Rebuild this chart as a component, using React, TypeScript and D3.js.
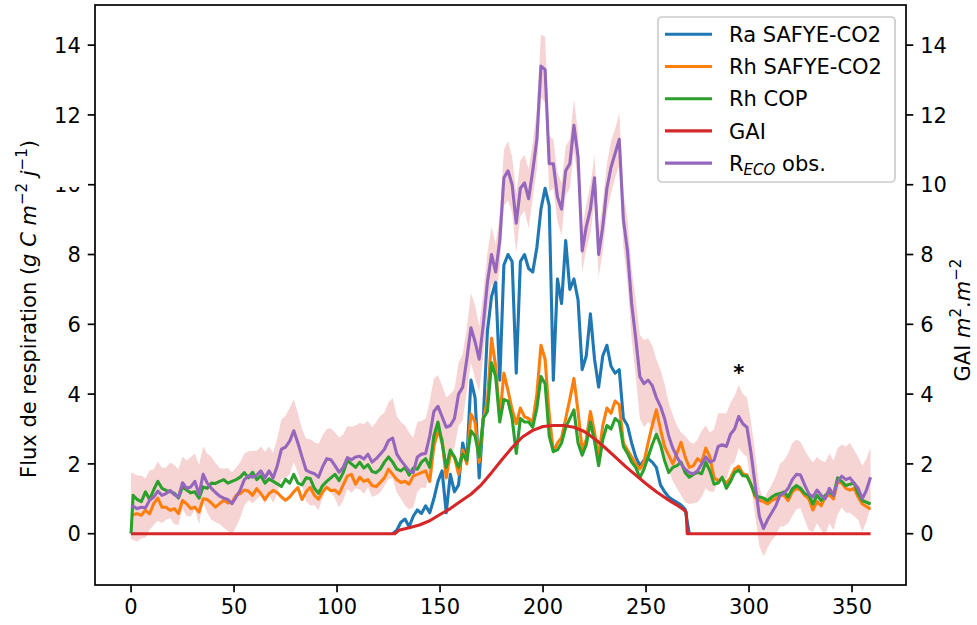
import React from 'react';
import * as d3 from 'd3';

// ---------- data ----------
// sampling grid: day 0, then every odd day 1..359
const days = [0, ...d3.range(1, 360, 2)];
// Ra only non-zero between day 127 and 271 (elsewhere 0, hidden under GAI)
const raDays = d3.range(127, 272, 2);
const raValues = [
  0,
  0.1, 0.33, 0.42, 0.2, 0.5, 0.68, 0.58, 0.8, 0.6, 1.0,
  1.5, 1.8, 0.6, 1.7, 1.2, 1.4, 2.6, 2.1, 4.4, 3.9,
  1.6, 3.3, 5.8, 6.8, 7.2, 4.4, 7.7, 8.0, 7.8, 4.6,
  7.8, 8.0, 7.6, 7.5, 8.2, 9.3, 9.9, 9.4, 4.4, 7.3,
  6.6, 8.4, 7.0, 7.3, 6.7, 4.7, 5.1, 6.3, 5.0, 4.2,
  5.1, 5.4, 4.8, 4.6, 4.7, 3.3, 3.1, 2.6, 2.2, 1.95,
  2.1, 2.15, 2.05, 1.9, 1.4, 1.2, 1.05, 0.97, 0.9, 0.82,
  0.7,
  0,
];
const rhSafyeValues = [
  0.55,
  0.55, 0.57, 0.53, 0.67, 0.57, 0.86, 1.02, 0.76, 0.76, 0.67,
  0.72, 0.58, 0.95, 0.86, 0.72, 0.76, 0.62, 1.0, 0.98, 0.88,
  0.76, 0.86, 0.96, 0.88, 0.9, 1.1, 1.15, 1.25, 1.22, 1.1,
  1.29, 1.15, 0.98, 1.15, 1.24, 1.18, 1.05, 0.96, 1.05, 1.2,
  1.32, 0.98, 1.2, 1.33, 1.1, 0.99, 1.2, 1.33, 1.23, 1.25,
  1.14, 1.4, 1.65, 1.7, 1.42, 1.62, 1.5, 1.55, 1.38, 1.35,
  1.47, 1.6, 1.85, 1.7, 1.55, 1.47, 1.5, 1.42, 1.65, 1.7,
  1.75, 1.8, 1.5, 2.5, 2.95, 2.7, 1.6, 2.3, 2.2, 1.7,
  2.4, 2.0, 3.43, 3.2, 2.05, 3.3, 3.8, 5.6, 4.8, 3.3,
  4.6, 4.1, 3.55, 3.15, 3.6, 3.35, 3.3, 3.2, 4.0, 5.4,
  5.0, 3.4, 2.35, 2.6, 2.75, 3.3, 3.85, 4.45, 3.5, 2.4,
  2.7, 3.5, 2.9, 2.2, 3.1, 3.6, 3.45, 3.8, 3.7, 2.6,
  2.4, 2.2, 2.0, 1.85, 2.05, 2.6, 3.1, 3.55, 3.0, 2.5,
  2.25, 2.0, 2.3, 2.62, 2.2, 1.9, 1.95, 2.15, 2.05, 2.45,
  2.2, 1.6, 1.52, 1.58, 1.45, 1.6, 1.85, 1.93, 1.72, 1.68,
  1.4, 1.05, 0.95, 0.92, 0.85, 0.95, 1.0, 1.1, 1.1, 0.95,
  1.2, 1.3, 1.25, 1.1, 1.0, 0.68, 0.92, 0.8, 1.05, 1.12,
  1.0, 1.5, 1.45, 1.3, 1.25, 1.3, 1.05, 0.85, 0.78, 0.7,
];
const rhCopValues = [
  0,
  1.1, 0.98, 0.92, 1.2, 0.98, 1.26, 1.5, 1.3, 1.24, 1.2,
  1.16, 1.02, 1.34, 1.25, 1.17, 1.2, 1.02, 1.34, 1.3, 1.45,
  1.44, 1.5, 1.55, 1.45, 1.5, 1.55, 1.62, 1.75, 1.6, 1.76,
  1.55, 1.66, 1.45, 1.57, 1.5, 1.43, 1.35, 1.56, 1.45, 1.7,
  1.45, 1.4, 1.6, 1.58, 1.3, 1.16, 1.38, 1.5, 1.6, 1.7,
  1.52, 1.75, 2.1, 2.0, 1.9, 2.05, 1.88, 1.98, 1.78, 1.75,
  1.85, 2.05, 2.2, 2.05, 1.85, 1.8, 1.9, 1.68, 1.88, 1.85,
  2.05, 2.15, 1.9, 2.8, 3.2, 2.6, 1.9, 2.4, 2.2, 1.9,
  2.28, 2.1, 2.95, 2.8, 2.2, 3.3, 3.5, 4.9, 4.5, 3.2,
  3.85, 3.8, 3.3, 2.3, 3.3, 3.2, 3.2, 3.05, 3.6, 4.5,
  4.3, 2.8, 2.35, 2.4, 2.6, 3.05, 3.3, 3.55, 2.6, 2.25,
  2.55, 3.2, 2.65, 1.95, 2.7, 3.1, 3.0, 3.3, 3.2, 2.5,
  2.3, 2.05, 1.9, 1.6, 1.85, 2.2, 2.55, 2.85, 2.55, 2.1,
  1.75, 1.9, 1.95, 2.05, 1.75, 1.62, 1.7, 1.76, 1.72, 2.05,
  1.8, 1.42, 1.45, 1.62, 1.3, 1.5, 1.75, 1.82, 1.66, 1.65,
  1.4, 1.1, 1.05, 1.02, 0.95, 1.05, 1.12, 1.15, 1.2, 1.05,
  1.28, 1.38, 1.3, 1.15, 1.1, 0.85, 1.1, 0.95, 1.1, 1.2,
  1.1, 1.6, 1.5, 1.38, 1.42, 1.45, 1.15, 0.95, 0.9, 0.85,
];
const recoValues = [
  0.8,
  0.78, 0.72, 0.76, 0.74, 0.96, 1.05, 1.22, 1.1, 1.15, 1.24,
  1.12, 1.05, 1.46, 1.3, 1.34, 1.5, 1.12, 1.7, 1.45, 1.3,
  1.18, 1.08, 1.02, 0.98, 0.86, 1.05, 1.25, 1.55, 1.66, 1.62,
  1.68, 1.8, 1.6, 1.8, 1.6, 1.95, 2.42, 2.48, 2.65, 2.95,
  2.6, 2.2, 1.82, 1.76, 1.72, 1.62, 1.92, 2.15, 2.12, 1.95,
  1.76, 1.9, 2.18, 2.12, 2.2, 2.22, 2.14, 2.28, 2.05, 2.15,
  2.28, 2.42, 2.67, 2.74, 2.28, 2.1, 1.95, 1.8, 1.75, 2.2,
  2.28, 2.3, 2.8, 3.5, 3.65, 3.35, 3.05, 3.1, 3.3, 4.0,
  4.2, 5.0, 5.9, 5.5, 5.0, 6.0, 7.2, 8.0, 7.5, 8.4,
  10.2, 10.4, 10.0, 8.9, 9.9, 10.05, 9.6, 10.4, 11.3, 13.4,
  13.3, 10.6, 10.6, 9.65, 9.3, 10.4, 10.6, 11.7, 10.8, 8.1,
  8.8, 9.3, 10.2, 8.0, 8.8, 9.9, 10.5, 10.9, 11.3, 9.0,
  8.1, 6.6, 5.6, 4.5, 4.3, 4.4, 4.25, 3.9, 3.65, 3.3,
  2.8, 2.45, 2.2, 2.0, 1.85, 1.75, 1.72, 1.8, 2.0, 2.2,
  2.05, 2.1, 2.5, 2.55, 2.5, 2.85, 3.0, 3.36, 3.15, 3.05,
  2.3, 1.4, 0.5, 0.15, 0.4, 0.6, 0.8, 1.1, 1.16, 1.3,
  1.55, 1.7, 1.68, 1.4, 1.15, 1.05, 1.25, 1.1, 1.0, 1.3,
  1.1, 1.5, 1.65, 1.55, 1.6, 1.45, 1.3, 1.0, 1.25, 1.62,
];
const recoSd = [
  0.95,
  0.95, 0.95, 0.9, 0.85, 0.85,
  0.8, 0.85, 0.8, 0.75, 0.8, 0.85, 0.8, 0.75, 0.8, 0.85,
  0.8, 0.85, 0.8, 0.85, 0.9, 0.85, 0.8, 0.85, 0.9, 0.9,
  0.85, 0.8, 0.75, 0.7, 0.75, 0.7, 0.7, 0.75, 0.7, 0.72,
  0.8, 0.85, 0.9, 0.95, 0.9, 0.85, 0.8, 0.9, 0.95, 0.9,
  0.95, 0.9, 0.85, 0.9, 0.95, 1.0, 0.95, 0.9, 0.95, 0.9,
  0.95, 1.0, 0.95, 1.0, 1.05, 1.1, 1.05, 1.1, 1.15, 1.1,
  1.1, 1.15, 1.1, 1.0, 1.0, 0.95, 1.0, 1.0, 0.95, 0.9,
  0.9, 0.85, 0.9, 0.85, 0.9, 0.95, 0.9, 1.0, 1.05, 0.95,
  0.9, 0.85, 0.8, 0.8, 0.75, 0.8, 0.85, 0.8, 0.85, 0.8,
  0.8, 0.85, 0.8, 0.85, 0.9, 0.95, 0.8, 0.7, 0.7, 0.75,
  0.7, 0.7, 0.75, 0.7, 0.6, 0.65, 0.7, 0.65, 0.65, 0.7,
  0.7, 0.75, 0.7, 0.75, 0.8, 0.9, 1.0, 1.1, 1.2, 1.25,
  1.2, 1.15, 1.1, 1.05, 1.0, 0.95, 0.95, 0.9, 0.9, 0.95,
  0.9, 0.85, 0.9, 0.95, 0.9, 0.85, 0.9, 0.95, 0.9, 0.95,
  0.9, 0.95, 0.9, 0.85, 0.85, 0.9, 0.9, 0.85, 0.8, 0.8,
  0.8, 0.85, 0.9, 0.95, 1.0, 1.05, 1.0, 0.95, 1.0, 1.05,
  1.0, 0.95, 1.0, 1.05, 1.0, 1.0, 0.95, 0.9, 0.95, 1.0,
  0.95, 0.9, 0.95, 0.9, 0.85,
];
const gaiDays = [0, 128, 130, 135, 140, 145, 150, 155, 160, 165, 170, 175, 180, 185, 190, 195, 200, 205, 210, 215, 220, 225, 230, 235, 240, 245, 250, 255, 260, 265, 268, 269.5, 270, 359];
const gaiValues = [0, 0, 0.1, 0.17, 0.25, 0.37, 0.55, 0.72, 0.93, 1.13, 1.4, 1.75, 2.12, 2.47, 2.77, 2.96, 3.07, 3.1, 3.1, 3.05, 2.93, 2.72, 2.47, 2.2, 1.93, 1.68, 1.43, 1.2, 1.0, 0.82, 0.7, 0.62, 0, 0];

const xTicks = [0, 50, 100, 150, 200, 250, 300, 350];
const yTicks = [0, 2, 4, 6, 8, 10, 12, 14];
const legendLabels = ['Ra SAFYE-CO2', 'Rh SAFYE-CO2', 'Rh COP', 'GAI', 'RECO obs.'];
const colors = ['#1f77b4', '#ff7f0e', '#2ca02c', '#d62728', '#9467bd'];
const asteriskDay = 295;
const asteriskValue = 4.4;

// ---------- layout ----------
const W = 977;
const H = 625;
const L = 95, R = 906, T = 5, B = 585;
const FS = 21;
const FONT = '"DejaVu Sans", sans-serif';

export default function App() {
  const x = d3.scaleLinear().domain([-17.5, 376.2]).range([L, R]);
  const y = d3.scaleLinear().domain([-1.47, 15.15]).range([B, T]);

  const lineOn = (xs: number[]) =>
    d3.line<number>().x((_, i) => x(xs[i])).y((d) => y(d));

  const area = d3
    .area<number>()
    .x((_, i) => x(days[i]))
    .y0((d, i) => y(d - recoSd[i]))
    .y1((d, i) => y(d + recoSd[i]));

  const series = [
    { xs: raDays, vals: raValues, c: colors[0] },
    { xs: days, vals: rhSafyeValues, c: colors[1] },
    { xs: days, vals: rhCopValues, c: colors[2] },
    { xs: gaiDays, vals: gaiValues, c: colors[3] },
    { xs: days, vals: recoValues, c: colors[4] },
  ];

  const tickLen = 7.3;
  const legX = 658, legY = 17, legW = 237, legH = 165;
  const rowH = 32.2;

  return (
    <svg
      width={W}
      height={H}
      style={{ position: 'fixed', left: 0, top: 0, background: '#fff' }}
      fontFamily={FONT}
    >
      <rect x={0} y={0} width={W} height={H} fill="#fff" />
      <defs>
        <clipPath id="plot">
          <rect x={L} y={T} width={R - L} height={B - T} />
        </clipPath>
      </defs>
      <g clipPath="url(#plot)">
        <path d={area(recoValues) || ''} fill="#d62728" fillOpacity={0.2} stroke="none" />
        {series.map((s, k) => (
          <path
            key={k}
            d={lineOn(s.xs)(s.vals) || ''}
            fill="none"
            stroke={s.c}
            strokeWidth={3.1}
            strokeLinejoin="round"
          />
        ))}
      </g>
      <text
        x={x(asteriskDay)}
        y={y(asteriskValue)}
        textAnchor="middle"
        fontSize={FS}
        fontWeight="bold"
        fill="#000"
      >
        *
      </text>

      {/* frame */}
      <rect x={L} y={T} width={R - L} height={B - T} fill="none" stroke="#000" strokeWidth={1.7} />

      {/* x axis */}
      {xTicks.map((t) => (
        <g key={'x' + t}>
          <line x1={x(t)} x2={x(t)} y1={B} y2={B + tickLen} stroke="#000" strokeWidth={1.7} />
          <text x={x(t)} y={B + 29} textAnchor="middle" fontSize={FS} fill="#000">
            {t}
          </text>
        </g>
      ))}
      {/* left y axis */}
      {yTicks.map((t) => (
        <g key={'y' + t}>
          <line x1={L - tickLen} x2={L} y1={y(t)} y2={y(t)} stroke="#000" strokeWidth={1.7} />
          <text x={L - 14.2} y={y(t) + 7.6} textAnchor="end" fontSize={FS} fill="#000">
            {t}
          </text>
        </g>
      ))}
      {/* right y axis */}
      {yTicks.map((t) => (
        <g key={'r' + t}>
          <line x1={R} x2={R + tickLen} y1={y(t)} y2={y(t)} stroke="#000" strokeWidth={1.7} />
          <text x={R + 14.2} y={y(t) + 7.6} textAnchor="start" fontSize={FS} fill="#000">
            {t}
          </text>
        </g>
      ))}

      {/* mask over top of the "10" label, as in the reference */}
      <rect x={44} y={150} width={44} height={37} fill="#fff" />

      {/* left y label */}
      <text transform={`translate(36, 309) rotate(-90)`} textAnchor="middle" fontSize={FS} fill="#000">
        Flux de respiration (
        <tspan fontStyle="italic">g C m</tspan>
        <tspan dy={-9} fontSize={15}>−2</tspan>
        <tspan dy={9}>{'  '}</tspan>
        <tspan fontStyle="italic">j</tspan>
        <tspan dy={-9} fontSize={15}>−1</tspan>
        <tspan dy={9}>)</tspan>
      </text>

      {/* right y label */}
      <text transform={`translate(970, 320) rotate(-90)`} textAnchor="middle" fontSize={FS} fill="#000">
        GAI <tspan fontStyle="italic">m</tspan>
        <tspan dy={-9} fontSize={15}>2</tspan>
        <tspan dy={9}>.</tspan>
        <tspan fontStyle="italic">m</tspan>
        <tspan dy={-9} fontSize={15}>−2</tspan>
      </text>

      {/* legend */}
      <rect
        x={legX}
        y={legY}
        width={legW}
        height={legH}
        rx={4}
        fill="#fff"
        fillOpacity={0.8}
        stroke="#cccccc"
        strokeWidth={1.7}
      />
      {legendLabels.map((lab, i) => {
        const cy = legY + 17.3 + i * rowH;
        return (
          <g key={lab}>
            <line x1={665} x2={712} y1={cy} y2={cy} stroke={colors[i]} strokeWidth={3.1} />
            {i === 4 ? (
              <text x={729} y={cy + 7.6} fontSize={FS} fill="#000">
                R
                <tspan fontStyle="italic" fontSize={15} dy={4}>ECO</tspan>
                <tspan dy={-4}> obs.</tspan>
              </text>
            ) : (
              <text x={729} y={cy + 7.6} fontSize={FS} fill="#000">
                {lab}
              </text>
            )}
          </g>
        );
      })}
    </svg>
  );
}
